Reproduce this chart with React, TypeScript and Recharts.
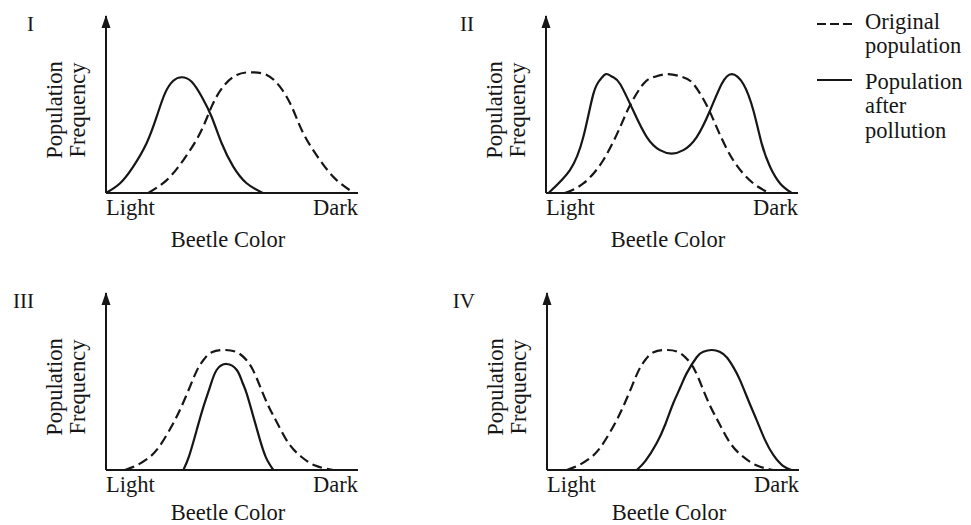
import React from 'react';
import { LineChart, Line, XAxis, YAxis, ReferenceDot, Legend } from 'recharts';

type Pt = { x: number; y: number };

const FONT = '"Liberation Serif", "DejaVu Serif", "Times New Roman", serif';
const INK = '#161616';

const xTicks = [0, 100];
const xTickLabels = ['Light', 'Dark'];
const xTitle = 'Beetle Color';
const yTitle = ['Population', 'Frequency'];
const panelNames = ['I', 'II', 'III', 'IV'];
const seriesNames = ['Original population', 'Population after pollution'];
const legendLines = [['Original', 'population'], ['Population', 'after', 'pollution']];

// [color position, frequency], 0 = light end, 100 = dark end
const original1 = [[16.8, 0], [24.1, 7.3], [30.7, 18.6], [37.3, 33.7], [41.9, 48.8], [46.5, 60.1], [51.9, 66.7], [57.8, 68.2], [63.8, 66.7], [69, 60.1], [73.7, 48.8], [78.3, 33.7], [84.9, 18.6], [91.5, 7.3], [98.5, 0]];
const after1 = [[0, 0], [5.6, 5.5], [10.8, 14.9], [16.1, 28.1], [20.1, 43.1], [23.4, 56.3], [26.7, 63.4], [30, 65.4], [34, 62.9], [38, 54.4], [41.9, 43.1], [45.9, 28.1], [50.5, 14.9], [55.8, 5.5], [62.2, 0]];

const original2 = [[7.5, 0], [14.8, 5.4], [22.7, 18.5], [29.4, 37.2], [33.3, 49.4], [38.6, 61.6], [43, 65.6], [48.5, 67.2], [54, 65.6], [58.5, 61.6], [63.8, 49.4], [67.7, 37.2], [74.3, 18.5], [82.3, 5.4], [88.9, 0]];
const after2 = [[1, 0], [9.5, 12.9], [14.8, 31.6], [18.8, 56], [21.5, 64], [23.8, 67.2], [26.5, 65.5], [29.4, 61.6], [34.6, 46.6], [40, 31.6], [45.2, 24.2], [49.9, 22.3], [54.5, 24.2], [59.8, 31.6], [65.1, 46.6], [69.7, 61.6], [73.7, 67.2], [78.3, 61.6], [82.3, 46.6], [85.6, 27.9], [88.9, 14.8], [92.9, 5.4], [97.5, 0]];

const original3 = [[7.5, 0], [12, 2.5], [17.5, 7.5], [22, 15], [26.7, 26.4], [30, 36], [33.3, 47], [36, 56], [38.6, 62], [42, 66.5], [47.2, 67.8], [52, 66.5], [55.8, 62], [58.5, 56], [61.2, 47], [64.5, 36], [68, 26.4], [72.5, 15], [77.5, 7.5], [83, 2.5], [90.2, 0]];
const after3 = [[30.7, 0], [33, 8], [36, 22.6], [38.5, 35], [41.3, 47.1], [43.9, 56.5], [47.9, 59.9], [51.9, 56.5], [54, 50], [55.8, 43.3], [58.5, 30], [61.1, 17], [63.5, 7], [66.4, 0]];

const original4 = [[7.8, 0], [12.3, 2.5], [17.8, 7.5], [22.3, 15], [27, 26.4], [30.3, 36], [33.6, 47], [36.3, 56], [38.9, 62], [42.3, 66.5], [47.5, 67.8], [52.3, 66.5], [56, 62], [58.8, 56], [61.5, 47], [64.8, 36], [68.3, 26.4], [72.8, 15], [77.8, 7.5], [83.3, 2.5], [89.8, 0]];
const after4 = [[35.6, 0], [39, 5], [43.5, 15.1], [47, 26], [50.1, 37.7], [53, 47], [55.4, 54.6], [59.4, 63.7], [62, 66.8], [65.3, 67.8], [68.5, 66.8], [71.3, 63.7], [74, 58], [76.6, 50.8], [80, 39], [83.2, 28.2], [86.5, 17], [89.8, 8.5], [93.5, 2.5], [97, 0]];

const toPts = (rows: number[][]): Pt[] => rows.map(([x, y]) => ({ x, y }));

// axes need at least 1px of room or recharts skips them
const panels = [
  { name: panelNames[0], original: original1, after: after1, left: 0, top: 0, width: 440, height: 262, titleDy: 54, margin: { top: 16, right: 82, bottom: 68, left: 105 } },
  { name: panelNames[1], original: original2, after: after2, left: 440, top: 0, width: 531, height: 262, titleDy: 54, margin: { top: 16, right: 173, bottom: 68, left: 105 }, legend: true },
  { name: panelNames[2], original: original3, after: after3, left: 0, top: 262, width: 440, height: 263, titleDy: 50, margin: { top: 31, right: 82, bottom: 54, left: 105 } },
  { name: panelNames[3], original: original4, after: after4, left: 440, top: 262, width: 531, height: 263, titleDy: 50, margin: { top: 31, right: 172, bottom: 54, left: 106 } },
];

const textStyle = { fontFamily: FONT, fill: INK };

const renderXTick = (props: any) => {
  const { x, y, payload } = props;
  const i = xTicks.indexOf(payload.value);
  return (
    <text x={x} y={y + 22} textAnchor={i === 0 ? 'start' : 'end'} fontSize={22.5} fontFamily={FONT} style={textStyle}>
      {xTickLabels[i]}
    </text>
  );
};

const makeXTitle = (dy: number) => (props: any) => {
  const { x, y, width } = props.viewBox;
  return (
    <text x={x + width / 2 - 4} y={y + dy} textAnchor="middle" fontSize={22.5} fontFamily={FONT} style={textStyle}>
      {xTitle}
    </text>
  );
};

const makeYTitle = (name: string) => (props: any) => {
  const { x, y, width, height } = props.viewBox;
  const axisX = x + width;
  const cy = y + height - 83;
  return (
    <g>
      <text x={axisX - 72} y={y + 15} textAnchor="end" fontSize={21} fontFamily={FONT} style={textStyle}>{name}</text>
      {yTitle.map((t, i) => (
        <text key={t} transform={`translate(${axisX - 44 + i * 23},${cy}) rotate(-90)`} textAnchor="middle" fontSize={22.5} fontFamily={FONT} style={textStyle}>
          {t}
        </text>
      ))}
    </g>
  );
};

const renderArrow = (props: any) => {
  const { cx, cy } = props;
  return <path d={`M${cx},${cy - 1} L${cx - 4.5},${cy + 12} L${cx + 4.5},${cy + 12} Z`} fill={INK} />;
};

const renderLegend = () => (
  <svg width={161} height={145} style={{ display: 'block' }}>
    {legendLines.map((lines, i) => {
      const lineY = i === 0 ? 24 : 80;
      const base = i === 0 ? 29 : 89;
      return (
        <g key={i}>
          <line x1={7} x2={42} y1={lineY} y2={lineY} stroke={INK} strokeWidth={2} strokeDasharray={i === 0 ? '9 4' : undefined} />
          {lines.map((t, j) => (
            <text key={t} x={55} y={base + j * 24.3} fontSize={22.5} fontFamily={FONT} style={textStyle}>{t}</text>
          ))}
        </g>
      );
    })}
  </svg>
);

const Panel = ({ p }: { p: any }) => (
  <div style={{ position: 'absolute', left: p.left, top: p.top }}>
    <LineChart width={p.width} height={p.height} margin={p.margin}>
      <XAxis
        type="number"
        dataKey="x"
        domain={[0, 100]}
        ticks={xTicks}
        interval={0}
        height={1}
        tickLine={false}
        tickSize={0}
        tickMargin={0}
        tick={renderXTick}
        axisLine={{ stroke: INK, strokeWidth: 2 }}
        label={{ content: makeXTitle(p.titleDy) }}
      />
      <YAxis
        type="number"
        domain={[0, 100]}
        width={1}
        tick={false}
        tickLine={false}
        axisLine={{ stroke: INK, strokeWidth: 2 }}
        label={{ content: makeYTitle(p.name) }}
      />
      <ReferenceDot x={0} y={100} r={0} shape={renderArrow} ifOverflow="visible" />
      <Line data={toPts(p.original)} dataKey="y" name={seriesNames[0]} type="natural" stroke={INK} strokeWidth={2.2} strokeDasharray="10 5" dot={false} activeDot={false} isAnimationActive={false} />
      <Line data={toPts(p.after)} dataKey="y" name={seriesNames[1]} type="natural" stroke={INK} strokeWidth={2.2} dot={false} activeDot={false} isAnimationActive={false} />
      {p.legend && (
        <Legend
          layout="horizontal"
          verticalAlign="middle"
          align="center"
          wrapperStyle={{ left: 370, top: 0, width: 161, height: 145 }}
          content={renderLegend}
        />
      )}
    </LineChart>
  </div>
);

export default function App() {
  return (
    <div style={{ position: 'absolute', left: 0, top: 0, width: 971, height: 525, background: '#fff', overflow: 'hidden' }}>
      {panels.map((p) => (
        <Panel key={p.name} p={p} />
      ))}
    </div>
  );
}
